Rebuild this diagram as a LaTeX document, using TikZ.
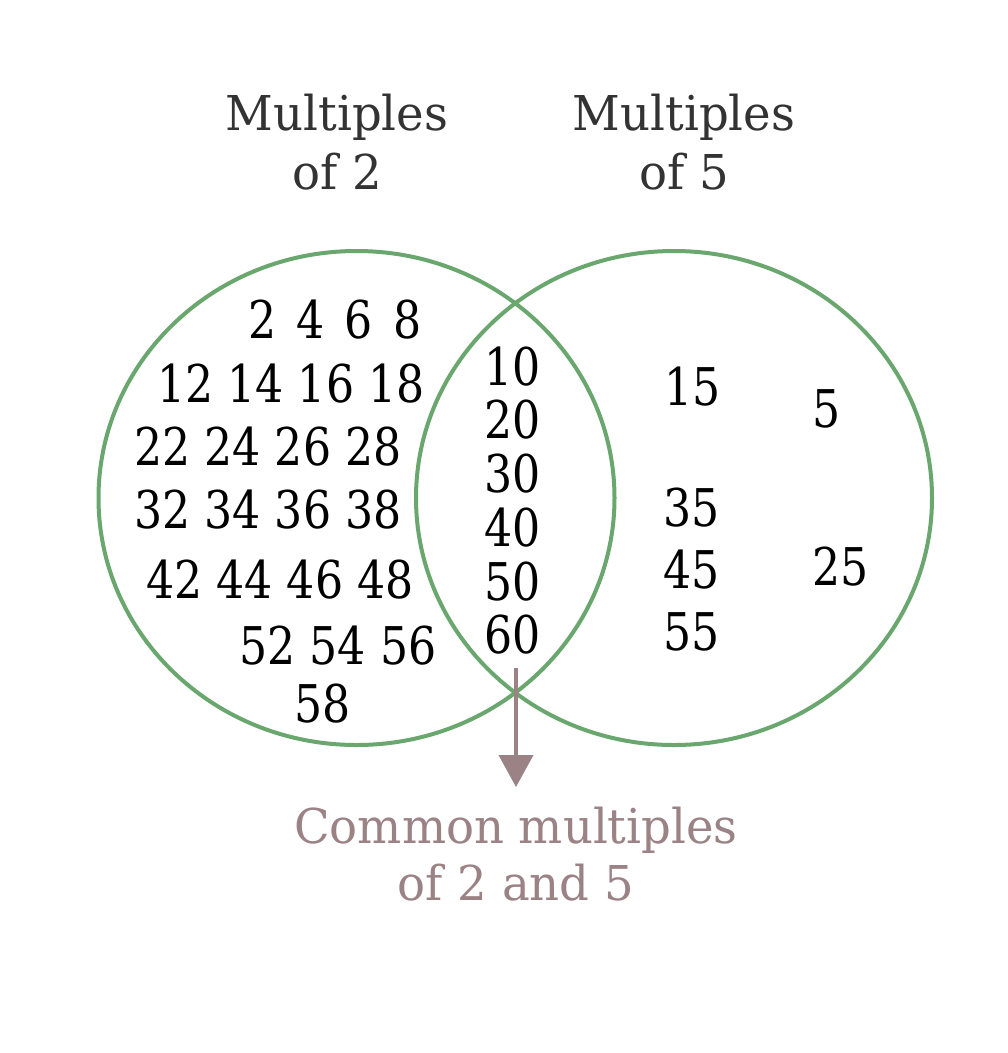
\documentclass[tikz,border=0pt]{standalone}
\usepackage{fontspec}
\setmainfont{DejaVu Serif}
\newfontfamily\numfont{DejaVu Serif}[FakeStretch=0.85]
\newfontfamily\capfont{DejaVu Serif}[FakeStretch=0.97]
\usetikzlibrary{arrows.meta}
\definecolor{vgreen}{HTML}{6AA76F}
\definecolor{mauve}{HTML}{9B8285}
\definecolor{titlegray}{HTML}{333333}
\tikzset{
  setcircle/.style={draw=vgreen, line width=4pt},
  title/.style={anchor=base, inner sep=0pt, text=titlegray, font=\capfont\fontsize{48}{56}\selectfont},
  num/.style={anchor=base, inner sep=0pt, text=black, font=\numfont\fontsize{52}{60}\selectfont},
  common/.style={anchor=base, inner sep=0pt, text=mauve, font=\capfont\fontsize{48}{56}\selectfont},
  pointer/.style={draw=mauve, line width=4pt, -{Triangle[width=34pt,length=32pt]}}
}
\begin{document}
\begin{tikzpicture}[x=1pt,y=-1pt]
\useasboundingbox[fill=white] (0,0) rectangle (1008,1053);
% circles
\draw[setcircle] (356.5,498) ellipse[x radius=258, y radius=247];
\draw[setcircle] (674,498) ellipse[x radius=258, y radius=247];
% titles
\node[title] (t2a) at (337,130) {Multiples};
\node[title] (t2b) at (337,189) {of 2};
\node[title] (t5a) at (684,130) {Multiples};
\node[title] (t5b) at (684,189) {of 5};
% multiples of 2 only
\node[num] (r1) at (335,338) {2\hspace{20pt}4\hspace{20pt}6\hspace{20pt}8};
\node[num] (r2) at (291,402) {12 14 16 18};
\node[num] (r3) at (268,465) {22 24 26 28};
\node[num] (r4) at (268,528) {32 34 36 38};
\node[num] (r5) at (280,598) {42 44 46 48};
\node[num] (r6) at (338,664) {52 54 56};
\node[num] (r7) at (323,722) {58};
% common
\node[num] (c10) at (513,385) {10};
\node[num] (c20) at (513,438) {20};
\node[num] (c30) at (513,492) {30};
\node[num] (c40) at (513,546) {40};
\node[num] (c50) at (513,600) {50};
\node[num] (c60) at (513,653) {60};
% multiples of 5 only
\node[num] (f15) at (693,405) {15};
\node[num] (f5) at (827,427) {5};
\node[num] (f35) at (692,526) {35};
\node[num] (f45) at (692,588) {45};
\node[num] (f55) at (692,650) {55};
\node[num] (f25) at (841,585) {25};
% pointer
\coordinate (pstart) at (516,668);
\coordinate (pend) at (516,787);
\draw[pointer] (pstart) -- (pend);
\node[common] (cm1) at (516,843) {Common multiples};
\node[common] (cm2) at (516,900) {of 2 and 5};
\end{tikzpicture}
\end{document}
